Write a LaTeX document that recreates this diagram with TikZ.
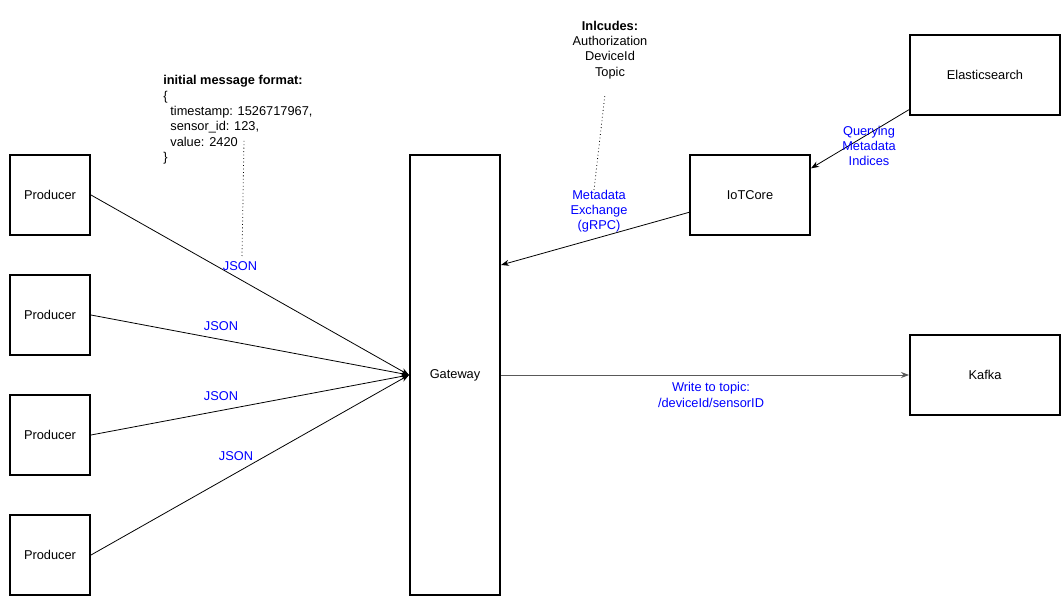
\documentclass[tikz,border=0pt]{standalone}
\usepackage{fontspec}
\setmainfont{Liberation Sans}
\usetikzlibrary{arrows.meta}
\begin{document}
\begin{tikzpicture}[x=0.75pt,y=-0.75pt,font=\fontsize{9.6}{11.4}\selectfont,
    box/.style={draw,line width=1.5pt,inner sep=0pt},
    flow/.style={line width=0.6pt,-{Stealth[length=6pt,width=4.5pt]}},
    lbl/.style={text=blue,align=center,inner sep=1pt},
    note/.style={dotted,line width=0.6pt}]
  \useasboundingbox (0,0) rectangle (1062,609);%

  \node[box,minimum width=60pt,minimum height=60pt] (P1) at (50,195) {Producer};%
  \node[box,minimum width=60pt,minimum height=60pt] (P2) at (50,315) {Producer};%
  \node[box,minimum width=60pt,minimum height=60pt] (P3) at (50,435) {Producer};%
  \node[box,minimum width=60pt,minimum height=60pt] (P4) at (50,555) {Producer};%

  \node[box,minimum width=67.5pt,minimum height=330pt] (GW) at (455,375) {Gateway};%
  \node[box,minimum width=90pt,minimum height=60pt] (IOT) at (750,195) {IoTCore};%
  \node[box,minimum width=112.5pt,minimum height=60pt] (ES) at (985,75) {Elasticsearch};%
  \node[box,minimum width=112.5pt,minimum height=60pt] (KF) at (985,375) {Kafka};%

  \draw[flow] (P1.east) -- (GW.west);%
  \draw[flow] (P2.east) -- (GW.west);%
  \draw[flow] (P3.east) -- (GW.west);%
  \draw[flow] (P4.east) -- (GW.west);%

  \draw[flow] ([yshift=-13pt]IOT.west) -- ([yshift=82.5pt]GW.east);%
  \draw[flow] ([yshift=-26pt]ES.west) -- ([yshift=20pt]IOT.east);%
  \draw[flow,draw=black!65] (GW.east) -- (KF.west);%

  \node[lbl] (J1) at (240,266) {JSON};%
  \node[lbl] (J2) at (221,326) {JSON};%
  \node[lbl] (J3) at (221,396) {JSON};%
  \node[lbl] (J4) at (236,456) {JSON};%
  \node[lbl] (ME) at (599,211) {Metadata\\Exchange\\(gRPC)};%
  \node[lbl] (QM) at (869,146) {Querying\\Metadata\\Indices};%
  \node[lbl] (WT) at (711,395) {Write to topic:\\/deviceId/sensorID};%

  \node[align=left,anchor=north west,inner sep=0pt,font=\fontsize{9.6}{11.6}\selectfont] (FMT) at (163,75)
    {\textbf{initial message format:}\\\{\\\ \ timestamp: 1526717967,\\\ \ sensor\_id: 123,\\\ \ value: 2420\\\}};%
  \node[align=center,anchor=north,inner sep=0pt,font=\fontsize{9.6}{11.4}\selectfont] (INC) at (610,21)
    {\textbf{Inlcudes:}\\Authorization\\DeviceId\\Topic};%

  \coordinate (N1) at (242,256);%
  \coordinate (N2) at (594,190);%
  \draw[note] (N1) -- (244,140);%
  \draw[note] (N2) -- (605,94);%
\end{tikzpicture}
\end{document}
